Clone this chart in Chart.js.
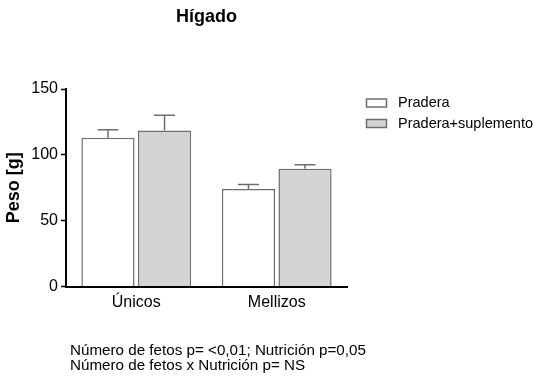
<!DOCTYPE html>
<html>
<head>
<meta charset="utf-8">
<script src="https://cdn.jsdelivr.net/npm/chart.js@4/dist/chart.umd.min.js"></script>
<style>
  html, body { margin: 0; padding: 0; background: #fff; }
  #wrap { width: 539px; height: 381px; }
</style>
</head>
<body>
<div id="wrap"><canvas id="chart" width="539" height="381"></canvas></div>
<script>
// Liver weight by number of fetuses and nutrition treatment
const categories = ['Únicos', 'Mellizos'];
const seriesNames = ['Pradera', 'Pradera+suplemento'];
const pradera = [113, 74];
const praderaErr = [6, 3.5];
const suplemento = [118.5, 89.5];
const suplementoErr = [11.5, 3];
const yTicks = [0, 50, 100, 150];
const titleText = 'Hígado';
const yTitle = 'Peso [g]';
const notes = [
  'Número de fetos p= <0,01; Nutrición p=0,05',
  'Número de fetos x Nutrición p= NS'
];

const FONT = '"Liberation Sans", Arial, Helvetica, sans-serif';
const EDGE = '#6e6e6e';

// Upward error bars with a cap, positioned through the value scale
const errorBars = {
  id: 'errorBars',
  afterDatasetsDraw(chart) {
    const ctx = chart.ctx;
    const y = chart.scales.y;
    ctx.save();
    ctx.strokeStyle = EDGE;
    ctx.lineWidth = 1.5;
    chart.data.datasets.forEach((ds, di) => {
      const meta = chart.getDatasetMeta(di);
      meta.data.forEach((bar, i) => {
        const top = y.getPixelForValue(ds.data[i] + ds.errors[i]);
        const half = 10.5;
        ctx.beginPath();
        ctx.moveTo(bar.x, bar.y);
        ctx.lineTo(bar.x, top);
        ctx.moveTo(bar.x - half, top);
        ctx.lineTo(bar.x + half, top);
        ctx.stroke();
      });
    });
    ctx.restore();
  }
};

// Title over the plot, legend at the right, notes under the axis
const decorations = {
  id: 'decorations',
  afterDraw(chart) {
    const ctx = chart.ctx;
    const area = chart.chartArea;
    ctx.save();
    ctx.fillStyle = '#000';
    ctx.font = 'bold 18px ' + FONT;
    ctx.textAlign = 'center';
    ctx.textBaseline = 'middle';
    ctx.fillText(titleText, (area.left + area.right) / 2, 17);

    // legend
    ctx.font = '14.5px ' + FONT;
    ctx.textAlign = 'left';
    chart.data.datasets.forEach((ds, i) => {
      const cy = 103 + i * 20.5;
      ctx.fillStyle = ds.backgroundColor;
      ctx.fillRect(366.5, cy - 4, 20, 8);
      ctx.strokeStyle = EDGE;
      ctx.lineWidth = 1.5;
      ctx.strokeRect(366.5, cy - 4, 20, 8);
      ctx.fillStyle = '#000';
      ctx.fillText(ds.label, 398, cy);
    });

    // statistics notes
    ctx.font = '15.2px ' + FONT;
    notes.forEach((t, i) => ctx.fillText(t, 70, 350.5 + i * 15));
    ctx.restore();
  }
};

new Chart(document.getElementById('chart'), {
  type: 'bar',
  data: {
    labels: categories,
    datasets: [
      {
        label: seriesNames[0],
        data: pradera,
        errors: praderaErr,
        backgroundColor: '#ffffff',
        borderColor: EDGE,
        borderWidth: 1.5,
        categoryPercentage: 0.805,
        barPercentage: 0.94
      },
      {
        label: seriesNames[1],
        data: suplemento,
        errors: suplementoErr,
        backgroundColor: '#d4d4d4',
        borderColor: EDGE,
        borderWidth: 1.5,
        categoryPercentage: 0.805,
        barPercentage: 0.94
      }
    ]
  },
  options: {
    responsive: false,
    devicePixelRatio: 1,
    animation: false,
    layout: { padding: { top: 89, right: 192, bottom: 64.5, left: 0 } },
    plugins: {
      legend: { display: false },
      title: { display: false },
      tooltip: { enabled: false }
    },
    scales: {
      x: {
        grid: { display: false },
        border: { display: true, color: '#000', width: 2 },
        ticks: { color: '#000', font: { family: FONT, size: 16 }, padding: -2 },
        afterFit(scale) { scale.height = 30; }
      },
      y: {
        min: 0,
        max: 150,
        afterBuildTicks(scale) { scale.ticks = yTicks.map(v => ({ value: v })); },
        grid: { drawOnChartArea: false, tickLength: 5, tickColor: '#000', tickWidth: 1.5 },
        border: { display: true, color: '#000', width: 2 },
        ticks: { color: '#000', font: { family: FONT, size: 16 }, padding: 3 },
        title: {
          display: true,
          text: yTitle,
          color: '#000',
          font: { family: FONT, size: 18, weight: 'bold' },
          padding: { top: 3, bottom: 0 }
        },
        afterFit(scale) { scale.width = 66; }
      }
    }
  },
  plugins: [errorBars, decorations]
});
</script>
</body>
</html>
